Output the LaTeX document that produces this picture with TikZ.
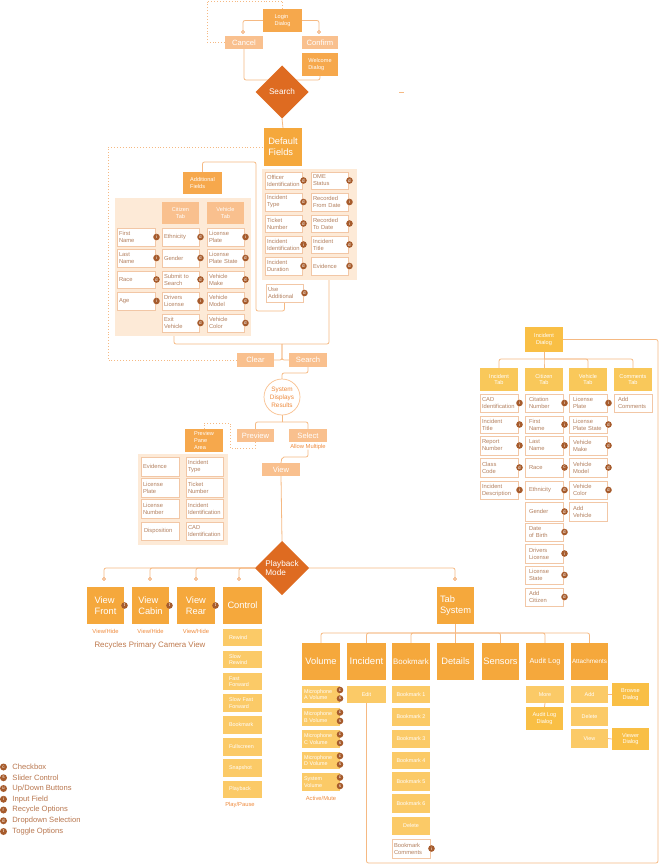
\documentclass[tikz,border=0pt]{standalone}
\usepackage{fontspec}
\setmainfont{Liberation Sans}
\usetikzlibrary{shapes.geometric}
\definecolor{cDark}{HTML}{DE6B21}
\definecolor{cMed}{HTML}{F6A84C}
\definecolor{cMedB}{HTML}{F5A83C}
\definecolor{cLight}{HTML}{F9C08E}
\definecolor{cYel}{HTML}{FBCA67}
\definecolor{cYelD}{HTML}{F9BF45}
\definecolor{cHead}{HTML}{F9C85A}
\definecolor{cPeach}{HTML}{FDEAD7}
\definecolor{cFbd}{HTML}{F2C7A6}
\definecolor{cFtx}{HTML}{B3805F}
\definecolor{cIco}{HTML}{A65B2C}
\definecolor{lineC}{HTML}{F5B983}
\definecolor{cOrT}{HTML}{EE8A3C}
\definecolor{cLeg}{HTML}{B8764E}
\newcommand\fs[2]{\fontsize{#1}{#2}\selectfont}
\pgfdeclarelayer{bg}\pgfdeclarelayer{lns}\pgfsetlayers{bg,lns,main}
\tikzset{
  every node/.style={inner sep=0pt,outer sep=0pt},
  mbox/.style={fill=cMed,text=white,align=left,font=\fs{5.6}{6.8}},
  bigbox/.style={fill=cMedB,text=white,align=left,font=\fs{9.3}{11}},
  lbox/.style={fill=cLight,text=white,align=center,font=\fs{7.6}{9}},
  hbox/.style={fill=cLight,text=white,align=center,font=\fs{5.6}{6.8}},
  ybox/.style={fill=cYel,text=white,align=center,font=\fs{5.4}{6.6}},
  ydlg/.style={fill=cYelD,text=white,align=center,font=\fs{5.6}{6.8}},
  thead/.style={fill=cHead,text=white,align=center,font=\fs{5.6}{6.8}},
  fbox/.style={fill=white,draw=cFbd,line width=0.6pt,text=cFtx,align=left,inner xsep=2pt,font=\fs{5.8}{7}},
  ico/.style={circle,fill=cIco,text=white,minimum size=6.6pt,font=\fs{4.6}{5}},
  panel/.style={fill=cPeach},
  ln/.style={draw=lineC,line width=0.8pt,rounded corners=2pt},
  dotln/.style={draw=lineC,line width=0.9pt,dotted},
  dot/.style={circle,draw=cOrT,fill=white,line width=0.6pt,minimum size=3pt},
  dia/.style={diamond,fill=cDark,text=white,aspect=1,minimum width=53pt,minimum height=53pt,align=left,font=\fs{8.2}{9.6}},
  otxt/.style={text=cOrT,font=\fs{5.8}{7}},
}
\newcommand\bx[7]{\node[#1,minimum width={#5-#3},minimum height={#6-#4}] (#2) at ({(#3+#5)/2},{(#4+#6)/2}) {#7};}
\newcommand\fld[7]{\node[fbox,text width={#4-#2-4},minimum height={#5-#3}] (#1) at ({(#2+#4)/2},{(#3+#5)/2}) {#6};%
  \ifx\relax#7\relax\else\node[ico] at ([xshift=1.5]#1.east) {#7};\fi}
\newcommand\vol[6]{\node[ybox,align=left,text width={#4-#2-4},minimum height={#5-#3},inner xsep=2pt] (#1) at ({(#2+#4)/2},{(#3+#5)/2}) {#6};%
  \node[ico] at ([yshift=4.5]#1.east) {c};\node[ico] at ([yshift=-4]#1.east) {s};}
\newcommand\ctl[4]{\node[ybox,align=left,text width=27pt,minimum height={#3-#2},inner xsep=6pt] (#1) at (242.5,{(#2+#3)/2}) {#4};}
\begin{document}
\begin{tikzpicture}[x=1pt,y=-1pt]
\useasboundingbox (0,0) rectangle (659,866);
% ---------- panels ----------
\begin{pgfonlayer}{bg}
\bx{panel}{defpanel}{262}{169}{357}{280}{}
\bx{panel}{addpanel}{115}{198}{251}{336}{}
\bx{panel}{prvpanel}{138}{454}{228}{545}{}
\end{pgfonlayer}
% ---------- top ----------
\bx{mbox}{login}{263}{9}{302}{32}{Login\\Dialog}
\bx{lbox}{cancel}{225}{36}{263}{49}{Cancel}
\bx{lbox}{confirm}{302}{36}{338}{49}{Confirm}
\bx{mbox}{welcome}{302}{53}{338}{76}{Welcome\\Dialog}
\node[dia] (search) at (282,92) {Search};
\node[dot] (d1) at (243,32) {};
\node[dot] (d2) at (319,32) {};
\coordinate (j1) at (282,80);
\bx{bigbox}{deff}{264}{128}{302}{166}{Default\\Fields}
% default fields
\fld{of1}{265}{172}{302}{189}{Officer\\Identification}{d}
\fld{of2}{265}{193}{302}{211}{Incident\\Type}{d}
\fld{of3}{265}{215}{302}{232}{Ticket\\Number}{d}
\fld{of4}{265}{236}{302}{253}{Incident\\Identification}{i}
\fld{of5}{265}{257}{302}{275}{Incident\\Duration}{d}
\fld{of6}{311}{172}{348}{189}{DME\\Status}{d}
\fld{of7}{311}{193}{348}{211}{Recorded\\From Date}{i}
\fld{of8}{311}{215}{348}{232}{Recorded\\To Date}{i}
\fld{of9}{311}{236}{348}{253}{Incident\\Title}{d}
\fld{of10}{311}{257}{348}{275}{Evidence}{d}
\fld{useadd}{266}{284}{303}{302}{Use\\Additional}{d}
% additional fields
\bx{mbox}{addf}{183}{172}{222}{194}{Additional\\Fields}
\bx{hbox}{ctab}{162}{202}{199}{224}{Citizen\\Tab}
\bx{hbox}{vtab}{207}{202}{244}{224}{Vehicle\\Tab}
\fld{af1}{117}{228}{155}{246}{First\\Name}{i}
\fld{af2}{117}{249}{155}{267}{Last\\Name}{i}
\fld{af3}{117}{271}{155}{288}{Race}{d}
\fld{af4}{117}{292}{155}{310}{Age}{i}
\fld{bf1}{162}{228}{199}{246}{Ethnicity}{d}
\fld{bf2}{162}{249}{199}{267}{Gender}{d}
\fld{bf3}{162}{271}{199}{288}{Submit to\\Search}{d}
\fld{bf4}{162}{292}{199}{310}{Drivers\\License}{i}
\fld{bf5}{162}{314}{199}{332}{Exit\\Vehicle}{d}
\fld{cf1}{207}{228}{244}{246}{License\\Plate}{i}
\fld{cf2}{207}{249}{244}{267}{License\\Plate State}{d}
\fld{cf3}{207}{271}{244}{288}{Vehicle\\Make}{d}
\fld{cf4}{207}{292}{244}{310}{Vehicle\\Model}{d}
\fld{cf5}{207}{314}{244}{332}{Vehicle\\Color}{d}
% clear / search
\coordinate (j2) at (282,344);
\bx{lbox}{clear}{237}{353}{274}{367}{Clear}
\bx{lbox}{search2}{289}{353}{327}{367}{Search}
\node[circle,draw=cLight,fill=white,line width=0.7pt,minimum size=36pt,text=cOrT,align=center,font=\fs{6.4}{7.9}] (sdr) at (282,397) {System\\Displays\\Results};
\coordinate (j3) at (282,422);
\bx{lbox}{preview}{237}{429}{274}{442}{Preview}
\bx{lbox}{select}{289}{429}{327}{442}{Select}
\node[otxt] (allow) at (308,447) {Allow Multiple};
\coordinate (j4) at (282,457);
\bx{lbox}{view}{262}{463}{300}{476}{View}
\bx{mbox}{ppa}{185}{429}{223}{452}{Preview\\Pane\\Area}
\fld{pf1}{141}{457}{179}{476}{Evidence}{}
\fld{pf2}{141}{478}{179}{497}{License\\Plate}{}
\fld{pf3}{141}{499}{179}{518}{License\\Number}{}
\fld{pf4}{141}{522}{179}{540}{\hspace{1pt}Disposition}{}
\fld{pf5}{186}{457}{223}{476}{Incident\\Type}{}
\fld{pf6}{186}{478}{223}{497}{Ticket\\Number}{}
\fld{pf7}{186}{499}{223}{518}{Incident\\Identification}{}
\fld{pf8}{186}{522}{223}{540}{CAD\\Identification}{}
% ---------- playback ----------
\node[dia,minimum width=54pt,minimum height=54pt] (play) at (282,568) {Playback\\Mode};
\node[dot] (dA) at (104,579) {};
\node[dot] (dB) at (150,579) {};
\node[dot] (dC) at (196,579) {};
\node[dot] (dD) at (239,579) {};
\node[dot] (dT) at (455,579) {};
\bx{bigbox}{vfront}{87}{587}{124}{624}{View\\Front}
\bx{bigbox}{vcabin}{132}{587}{169}{624}{View\\Cabin}
\bx{bigbox}{vrear}{177}{587}{215}{624}{View\\Rear}
\bx{bigbox}{control}{223}{587}{262}{624}{Control}
\node[ico] at ([xshift=0.5]vfront.east) {t};
\node[ico] at ([xshift=0.5]vcabin.east) {t};
\node[ico] at ([xshift=0.5]vrear.east) {t};
\node[otxt] (vh1) at (105.5,631) {View/Hide};
\node[otxt] (vh2) at (150.5,631) {View/Hide};
\node[otxt] (vh3) at (196,631) {View/Hide};
\node[text=cLeg!90!cOrT,font=\fs{7.9}{9}] (recy) at (150,645) {Recycles Primary Camera View};
\ctl{ct1}{629}{646}{Rewind}
\ctl{ct2}{651}{668}{Slow\\Rewind}
\ctl{ct3}{673}{690}{Fast\\Forward}
\ctl{ct4}{694}{712}{Slow Fast\\Forward}
\ctl{ct5}{716}{734}{Bookmark}
\ctl{ct6}{738}{756}{Fullscreen}
\ctl{ct7}{759}{777}{Snapshot}
\ctl{ct8}{781}{798}{Playback}
\node[otxt] (pp) at (240,805) {Play/Pause};
% ---------- tab system ----------
\bx{bigbox}{tabsys}{437}{587}{474}{624}{Tab\\System}
\coordinate (j6) at (455.5,633);
\bx{bigbox}{tvol}{302}{643}{340}{680}{Volume}
\bx{bigbox,font=\fs{9.6}{11}}{tinc}{347}{643}{386}{680}{Incident}
\bx{bigbox,font=\fs{7.9}{9}}{tbm}{392}{643}{430}{680}{Bookmark}
\bx{bigbox}{tdet}{437}{643}{474}{680}{Details}
\bx{bigbox}{tsen}{482}{643}{519}{680}{Sensors}
\bx{bigbox,font=\fs{7.3}{9}}{taud}{526}{643}{564}{680}{Audit Log}
\bx{bigbox,font=\fs{6.3}{8}}{tatt}{571}{643}{608}{680}{Attachments}
\vol{v1}{302}{686}{340}{703}{Microphone\\A Volume}
\vol{v2}{302}{708}{340}{726}{Microphone\\B Volume}
\vol{v3}{302}{730}{340}{748}{Microphone\\C Volume}
\vol{v4}{302}{752}{340}{769}{Microphone\\D Volume}
\vol{v5}{302}{773}{340}{791}{System\\Volume}
\node[otxt] (am) at (321,798) {Active/Mute};
\bx{ybox}{edit}{347}{686}{386}{703}{Edit}
\bx{ybox}{bm1}{392}{686}{430}{703}{Bookmark 1}
\bx{ybox}{bm2}{392}{708}{430}{726}{Bookmark 2}
\bx{ybox}{bm3}{392}{730}{430}{748}{Bookmark 3}
\bx{ybox}{bm4}{392}{752}{430}{769}{Bookmark 4}
\bx{ybox}{bm5}{392}{772}{430}{791}{Bookmark 5}
\bx{ybox}{bm6}{392}{794}{430}{813}{Bookmark 6}
\bx{ybox}{bmdel}{392}{817}{430}{835}{Delete}
\fld{bmc}{392}{839}{430}{858}{Bookmark\\Comments}{i}
\bx{ybox}{more}{526}{686}{564}{703}{More}
\bx{ydlg}{ald}{526}{707}{563}{730}{Audit Log\\Dialog}
\bx{ybox}{aadd}{571}{686}{608}{703}{Add}
\bx{ybox}{adel}{571}{707}{608}{726}{Delete}
\bx{ybox}{aview}{571}{729}{608}{748}{View}
\bx{ydlg}{browse}{612}{683}{649}{706}{Browse\\Dialog}
\bx{ydlg}{viewer}{612}{728}{649}{750}{Viewer\\Dialog}
% ---------- incident dialog ----------
\bx{ydlg}{incdlg}{525}{327}{563}{352}{Incident\\Dialog}
\coordinate (j7) at (544,359);
\coordinate (br) at (658,863);
\bx{thead}{itab}{480}{368}{518}{391}{Incident\\Tab}
\bx{thead}{ztab}{525}{368}{563}{391}{Citizen\\Tab}
\bx{thead}{wtab}{569}{368}{607}{391}{Vehicle\\Tab}
\bx{thead}{mtab}{614}{368}{652}{391}{Comments\\Tab}
\fld{i1}{480}{394}{518}{412}{CAD\\Identification}{i}
\fld{i2}{480}{416}{518}{433}{Incident\\Title}{i}
\fld{i3}{480}{436}{518}{455}{Report\\Number}{i}
\fld{i4}{480}{458}{518}{477}{Class\\Code}{d}
\fld{i5}{480}{481}{518}{499}{Incident\\Description}{i}
\fld{z1}{525}{394}{563}{412}{\hspace{2pt}Citation\\\hspace{2pt}Number}{i}
\fld{z2}{525}{416}{563}{433}{\hspace{2pt}First\\\hspace{2pt}Name}{i}
\fld{z3}{525}{436}{563}{455}{\hspace{2pt}Last\\\hspace{2pt}Name}{i}
\fld{z4}{525}{458}{563}{477}{\hspace{2pt}Race}{c}
\fld{z5}{525}{481}{563}{499}{\hspace{2pt}Ethnicity}{d}
\fld{z6}{525}{502}{563}{521}{\hspace{2pt}Gender}{d}
\fld{z7}{525}{523}{563}{541}{\hspace{2pt}Date\\\hspace{2pt}of Birth}{d}
\fld{z8}{525}{544}{563}{563}{\hspace{2pt}Drivers\\\hspace{2pt}License}{i}
\fld{z9}{525}{566}{563}{584}{\hspace{2pt}License\\\hspace{2pt}State}{d}
\fld{z10}{525}{588}{563}{606}{\hspace{2pt}Add\\\hspace{2pt}Citizen}{d}
\fld{w1}{569}{394}{607}{412}{\hspace{2pt}License\\\hspace{2pt}Plate}{i}
\fld{w2}{569}{416}{607}{433}{\hspace{2pt}License\\\hspace{2pt}Plate State}{d}
\fld{w3}{569}{436}{607}{455}{\hspace{2pt}Vehicle\\\hspace{2pt}Make}{d}
\fld{w4}{569}{458}{607}{477}{\hspace{2pt}Vehicle\\\hspace{2pt}Model}{d}
\fld{w5}{569}{481}{607}{499}{\hspace{2pt}Vehicle\\\hspace{2pt}Color}{d}
\fld{w6}{569}{502}{607}{521}{\hspace{2pt}Add\\\hspace{2pt}Vehicle}{}
\fld{m1}{614}{394}{652}{412}{\hspace{2pt}Add\\\hspace{2pt}Comments}{}
% ---------- legend ----------
\foreach \l/\t [count=\k from 0] in {c/Checkbox,s/Slider Control,u/Up\slash Down Buttons,i/Input Field,r/Recycle Options,d/Dropdown Selection,t/Toggle Options}{
  \node[ico,minimum size=7pt] (lg\k) at (3.5,{767+10.75*\k}) {\l};
  \node[anchor=west,text=cLeg,font=\fs{7.6}{9}] (lt\k) at (12.5,{767+10.75*\k}) {\t};
}
% ---------- connectors ----------
\begin{pgfonlayer}{lns}
\draw[dotln] (cancel.west) -| (207,1) -| (login.north);
\draw[ln] (login.west) -| (d1);
\draw[ln] (login.east) -| (d2);
\draw[ln] (cancel.south) |- (j1) -| (welcome.south);
\draw[ln] (399,92) -- (404,92);
\draw[ln] (search.south) -- (deff.north);
\draw[ln] (addf.north) |- (256,162) -- (256,311) -| (useadd.south);
\draw[ln] ([xshift=-9]addpanel.south) |- (j2);
\draw[ln] ([xshift=19.5]defpanel.south) |- (j2);
\draw[ln] (j2) |- (clear.east);
\draw[ln] (j2) |- (search2.west);
\draw[dotln] (clear.west) -| (108,147) -- (deff.west);
\draw[ln] (search2.south) |- (282,373) -- (sdr.north);
\draw[ln] (sdr.south) -- (j3);
\draw[ln] (j3) -| (preview.north);
\draw[ln] (j3) -| (select.north);
\draw[dotln] (preview.south) |- (230,448) -- (230,423) -| (ppa.north);
\draw[ln] (allow.south) |- (j4) -- (view.north);
\draw[ln] (view.south) -- (play.north);
\draw[ln] (play.west) -| (dA);
\draw[ln] (play.west) -| (dB);
\draw[ln] (play.west) -| (dC);
\draw[ln] (play.west) -| (dD);
\draw[ln] (play.east) -| (dT);
\draw[ln] (tabsys.south) -- (j6);
\foreach \n in {tvol,tinc,tbm,tdet,tsen,taud,tatt}{\draw[ln] (j6) -| (\n.north);}
\draw[ln] (more.south) -- (ald.north);
\draw[ln] (aadd.east) -- (browse.west);
\draw[ln] (aview.east) -- (viewer.west);
\draw[ln] (edit.south) |- (br) |- (incdlg.east);
\draw[ln] (incdlg.south) -- (j7);
\foreach \n in {itab,ztab,wtab,mtab}{\draw[ln] (j7) -| (\n.north);}
\end{pgfonlayer}
\end{tikzpicture}
\end{document}
